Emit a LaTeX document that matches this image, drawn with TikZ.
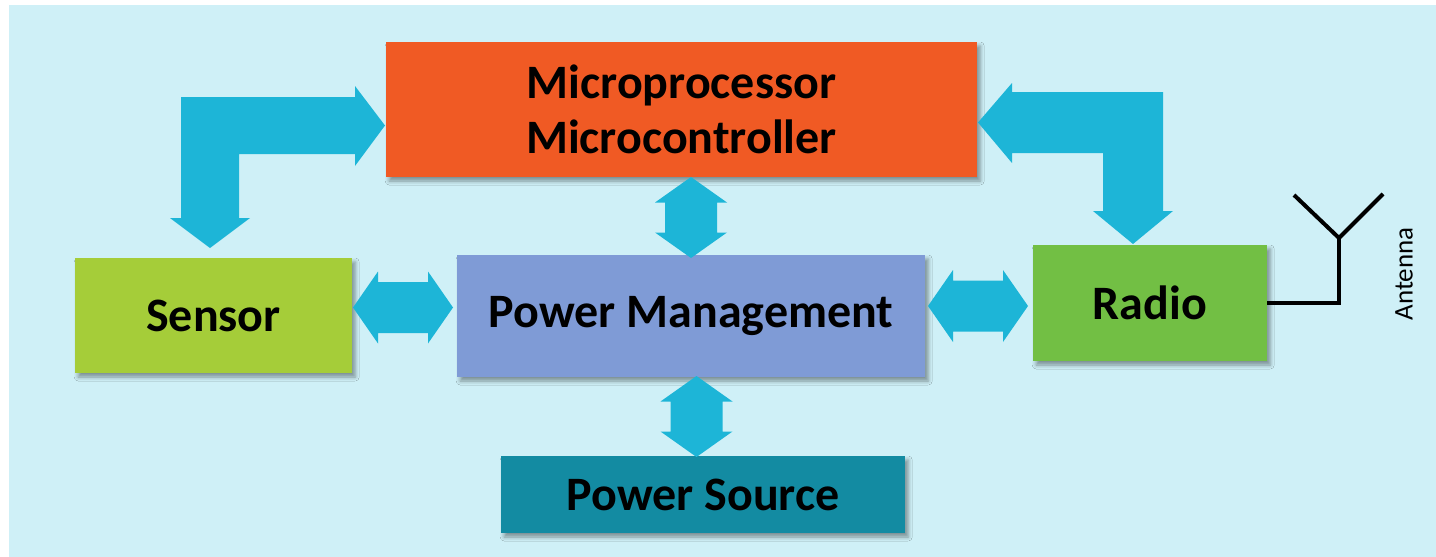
\documentclass[tikz,border=0pt]{standalone}
\usepackage{fontspec}
\setmainfont{Carlito}
\usetikzlibrary{shadows.blur}

\definecolor{panelbg}{RGB}{207,240,247}
\definecolor{flowblue}{RGB}{29,181,215}
\definecolor{mcuorange}{RGB}{240,90,36}
\definecolor{sensorgreen}{RGB}{165,205,57}
\definecolor{pmviolet}{RGB}{127,155,214}
\definecolor{radiogreen}{RGB}{114,191,68}
\definecolor{sourceteal}{RGB}{19,139,162}

\tikzset{
  block/.style={rectangle, inner sep=0pt, outer sep=0pt, align=center,
    font=\fontsize{24}{27.5}\selectfont\bfseries, text=black,
    blur shadow={shadow xshift=1.6pt, shadow yshift=-2pt,
                 shadow blur radius=2pt, shadow opacity=40}},
  flow/.style={fill=flowblue},
  antenna/.style={line width=2pt, black},
}

% horizontal two-headed block arrow: left tip x, right tip x, centre y
\newcommand\hbiarrow[3]{%
  \fill[flow] (#1,#3) -- (#1+25,#3-36) -- (#1+25,#3-25.5) -- (#2-25,#3-25.5)
    -- (#2-25,#3-36) -- (#2,#3) -- (#2-25,#3+36) -- (#2-25,#3+25.5)
    -- (#1+25,#3+25.5) -- (#1+25,#3+36) -- cycle;}
% vertical two-headed block arrow: centre x, top tip y, bottom tip y
\newcommand\vbiarrow[3]{%
  \fill[flow] (#1,#2) -- (#1+36,#2+25.5) -- (#1+26,#2+25.5) -- (#1+26,#3-25.5)
    -- (#1+36,#3-25.5) -- (#1,#3) -- (#1-36,#3-25.5) -- (#1-26,#3-25.5)
    -- (#1-26,#2+25.5) -- (#1-36,#2+25.5) -- cycle;}

\begin{document}
\begin{tikzpicture}[x=0.5pt, y=-0.5pt]
  \useasboundingbox (0,0) rectangle (1436,557);
  \fill[white] (0,0) rectangle (1436,557);
  \fill[panelbg] (9,5) rectangle (1436,557);

  % blocks
  \node[block, fill=mcuorange, minimum width=295.5pt, minimum height=67.5pt]
    (mcu) at (681.5,109.5) {Microprocessor\\Microcontroller};
  \node[block, fill=sensorgreen, minimum width=138.5pt, minimum height=57.5pt]
    (sensor) at (213.5,315.5) {Sensor};
  \node[block, fill=pmviolet, minimum width=234pt, minimum height=61pt]
    (pm) at (691,316) {Power Management};
  \node[block, fill=radiogreen, minimum width=117pt, minimum height=58pt]
    (radio) at (1150,303) {Radio};
  \node[block, fill=sourceteal, minimum width=202pt, minimum height=38.5pt]
    (source) at (703,494.5) {Power Source};

  % sensor <-> microcontroller (bent arrow)
  \fill[flow] (181,218) -- (170,218) -- (210,248) -- (250,218) -- (239,218)
    -- (239,154) -- (355,154) -- (355,166) -- (385,125.5) -- (355,86)
    -- (355,97) -- (181,97) -- cycle;
  % radio <-> microcontroller (bent arrow)
  \fill[flow] (978,122.5) -- (1012,83) -- (1012,92) -- (1163,92) -- (1163,211)
    -- (1173,211) -- (1133,244) -- (1093,211) -- (1103,211) -- (1103,153)
    -- (1012,153) -- (1012,163) -- cycle;

  % straight two-way links
  \hbiarrow{353}{453}{307.5}   % sensor <-> power management
  \hbiarrow{928}{1028}{306}    % power management <-> radio
  \vbiarrow{691}{177}{258}     % microcontroller <-> power management
  \vbiarrow{696.5}{376}{457}   % power management <-> power source

  % antenna
  \draw[antenna] (radio.east) -| (1339,238) coordinate (ajoin);
  \draw[antenna] (1294,195) -- (ajoin) -- (1383,194);
  \node[rotate=90, font=\fontsize{13.5}{16}\selectfont] (antlabel)
    at (1404,274) {Antenna};
\end{tikzpicture}
\end{document}
